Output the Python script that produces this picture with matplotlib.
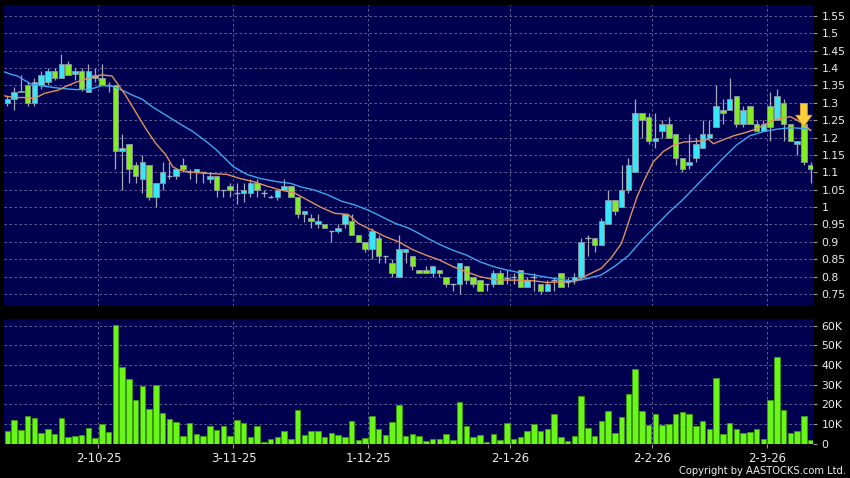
import numpy as np
import matplotlib
matplotlib.use("Agg")
import matplotlib.pyplot as plt

# ─── Daily OHLC ───────────────────────────────────────────────────────────────
opens = [1.30, 1.31, 1.33, 1.35, 1.30, 1.35, 1.36, 1.39, 1.37, 1.41,
         1.383, 1.39, 1.33, 1.372, 1.37, 1.35, 1.35, 1.16, 1.18, 1.12,
         1.08, 1.12, 1.03, 1.07, 1.09, 1.09, 1.12, 1.10, 1.10, 1.10,
         1.08, 1.09, 1.05, 1.06, 1.04, 1.04, 1.04, 1.07, 1.04, 1.03,
         1.03, 1.05, 1.06, 1.03, 0.98, 0.97, 0.95, 0.95, 0.93, 0.93,
         0.95, 0.96, 0.92, 0.90, 0.88, 0.91, 0.86, 0.84, 0.80, 0.87,
         0.86, 0.82, 0.82, 0.81, 0.82, 0.80, 0.78, 0.78, 0.83, 0.80,
         0.79, 0.78, 0.78, 0.81, 0.795, 0.80, 0.82, 0.77, 0.80, 0.78,
         0.76, 0.79, 0.81, 0.785, 0.79, 0.80, 0.91, 0.91, 0.89, 0.95,
         1.02, 1.00, 1.05, 1.10, 1.27, 1.26, 1.19, 1.22, 1.24, 1.21,
         1.14, 1.12, 1.14, 1.17, 1.20, 1.23, 1.28, 1.28, 1.32, 1.24,
         1.29, 1.24, 1.22, 1.29, 1.25, 1.30, 1.24, 1.18, 1.24, 1.12]
highs = [1.32, 1.345, 1.38, 1.36, 1.37, 1.39, 1.40, 1.40, 1.44, 1.42,
         1.40, 1.40, 1.41, 1.40, 1.41, 1.36, 1.35, 1.21, 1.18, 1.13,
         1.15, 1.12, 1.07, 1.13, 1.13, 1.11, 1.14, 1.11, 1.11, 1.10,
         1.10, 1.09, 1.05, 1.07, 1.07, 1.07, 1.08, 1.08, 1.05, 1.035,
         1.05, 1.08, 1.06, 1.03, 0.99, 0.98, 0.98, 0.95, 0.93, 0.95,
         0.98, 0.98, 0.92, 0.90, 0.94, 0.92, 0.86, 0.85, 0.92, 0.88,
         0.86, 0.82, 0.83, 0.83, 0.82, 0.80, 0.78, 0.84, 0.83, 0.80,
         0.79, 0.78, 0.82, 0.82, 0.82, 0.81, 0.82, 0.80, 0.81, 0.78,
         0.79, 0.80, 0.81, 0.80, 0.81, 0.91, 0.92, 0.91, 0.97, 1.05,
         1.02, 1.12, 1.14, 1.31, 1.27, 1.27, 1.27, 1.25, 1.26, 1.21,
         1.14, 1.21, 1.20, 1.25, 1.25, 1.35, 1.31, 1.37, 1.32, 1.29,
         1.29, 1.25, 1.25, 1.33, 1.34, 1.31, 1.24, 1.19, 1.25, 1.13]
lows = [1.29, 1.28, 1.33, 1.29, 1.29, 1.34, 1.35, 1.365, 1.37, 1.38,
        1.365, 1.335, 1.33, 1.36, 1.35, 1.33, 1.11, 1.05, 1.07, 1.07,
        1.04, 1.02, 1.00, 1.05, 1.08, 1.08, 1.10, 1.08, 1.07, 1.07,
        1.07, 1.03, 1.03, 1.03, 1.01, 1.015, 1.03, 1.03, 1.03, 1.025,
        1.02, 1.05, 1.03, 0.97, 0.958, 0.94, 0.94, 0.94, 0.90, 0.925,
        0.94, 0.92, 0.90, 0.87, 0.85, 0.84, 0.84, 0.80, 0.80, 0.84,
        0.82, 0.81, 0.81, 0.80, 0.80, 0.77, 0.76, 0.75, 0.78, 0.77,
        0.76, 0.76, 0.77, 0.78, 0.78, 0.78, 0.77, 0.77, 0.76, 0.75,
        0.76, 0.76, 0.77, 0.77, 0.78, 0.79, 0.86, 0.87, 0.89, 0.95,
        0.977, 1.00, 1.04, 1.10, 1.20, 1.18, 1.17, 1.20, 1.20, 1.12,
        1.10, 1.11, 1.13, 1.17, 1.20, 1.23, 1.24, 1.28, 1.23, 1.23,
        1.24, 1.22, 1.22, 1.19, 1.25, 1.19, 1.19, 1.15, 1.12, 1.07]
closes = [1.31, 1.33, 1.335, 1.30, 1.36, 1.38, 1.39, 1.37, 1.41, 1.38,
          1.39, 1.34, 1.39, 1.38, 1.35, 1.35, 1.16, 1.17, 1.11, 1.09,
          1.13, 1.03, 1.07, 1.10, 1.09, 1.11, 1.11, 1.10, 1.11, 1.10,
          1.09, 1.05, 1.05, 1.05, 1.04, 1.05, 1.07, 1.05, 1.04, 1.03,
          1.05, 1.06, 1.03, 0.98, 0.99, 0.96, 0.96, 0.94, 0.93, 0.94,
          0.98, 0.92, 0.90, 0.88, 0.93, 0.86, 0.86, 0.81, 0.88, 0.88,
          0.83, 0.81, 0.81, 0.83, 0.81, 0.78, 0.78, 0.84, 0.79, 0.78,
          0.76, 0.78, 0.81, 0.78, 0.795, 0.80, 0.77, 0.79, 0.80, 0.76,
          0.78, 0.79, 0.77, 0.785, 0.80, 0.90, 0.91, 0.89, 0.96, 1.02,
          0.99, 1.05, 1.12, 1.27, 1.25, 1.19, 1.20, 1.24, 1.20, 1.14,
          1.11, 1.13, 1.18, 1.21, 1.21, 1.29, 1.27, 1.31, 1.24, 1.28,
          1.24, 1.22, 1.24, 1.23, 1.32, 1.24, 1.19, 1.19, 1.13, 1.11]

# volume in thousands of shares
volume_k = [6.5, 12.2, 6.8, 13.9, 12.9, 5.3, 7.3, 4.6, 12.9, 3.2,
            3.7, 4.1, 7.8, 2.7, 9.9, 5.9, 60.2, 38.9, 33.1, 22.1,
            29.1, 17.7, 29.9, 15.3, 12.4, 10.9, 3.6, 10.4, 4.6, 3.9,
            8.7, 7.1, 9.0, 3.6, 11.9, 10.5, 3.2, 8.8, 1.0, 2.4,
            3.4, 6.3, 2.2, 17.3, 4.2, 6.6, 6.3, 3.1, 5.3, 4.2,
            3.4, 11.7, 1.7, 2.7, 14.1, 7.3, 4.2, 10.7, 19.7, 3.9,
            4.6, 3.9, 1.2, 2.5, 2.4, 4.8, 1.7, 21.2, 8.8, 3.4,
            4.1, 0.7, 4.8, 1.7, 10.4, 2.2, 3.2, 6.3, 9.9, 6.6,
            7.6, 14.8, 3.2, 1.2, 3.7, 24.1, 8.0, 3.9, 11.4, 16.3,
            5.3, 13.6, 25.2, 37.9, 16.7, 9.3, 15.1, 9.3, 9.9, 14.8,
            16.1, 15.0, 8.7, 11.4, 7.5, 33.5, 4.9, 10.2, 7.3, 5.6,
            6.1, 7.6, 2.2, 21.9, 44.2, 17.0, 5.6, 6.6, 13.9, 2.0]

# moving averages as drawn on the chart (bar position, value)
ma10_x = [-0.5, 1, 2.5, 4, 5.5, 7.5, 9, 11, 12.5, 14, 15.5, 16.5,
          17.5, 19, 20.5, 22, 23.5, 24.5, 25.5, 27.5, 29.5, 31.5, 32.5, 34.5,
          36.5, 38.5, 40.5, 42.5, 44.5, 46.5, 48.5, 50.5, 52, 54, 56, 58,
          60, 62, 64, 66, 68, 70, 72, 74, 76, 78, 80, 82,
          84, 86, 88, 89.5, 91, 92.3, 93.3, 94.3, 95.7, 97.2, 98.7, 100.2,
          102.6, 103.9, 104.6, 106, 107.6, 109.5, 111, 112.5, 113.5, 114.5, 116, 117,
          118.2, 119]
ma10 = [1.32, 1.315, 1.315, 1.312, 1.327, 1.336, 1.35, 1.365, 1.373, 1.38, 1.377, 1.35,
        1.322, 1.274, 1.226, 1.183, 1.15, 1.116, 1.106, 1.10, 1.097, 1.095, 1.094, 1.082,
        1.073, 1.06, 1.049, 1.041, 1.02, 0.999, 0.982, 0.979, 0.953, 0.934, 0.915, 0.90,
        0.878, 0.862, 0.848, 0.829, 0.814, 0.80, 0.792, 0.79, 0.79, 0.788, 0.783, 0.785,
        0.786, 0.805, 0.824, 0.855, 0.896, 0.972, 1.03, 1.075, 1.13, 1.16, 1.178, 1.187,
        1.19, 1.195, 1.182, 1.193, 1.205, 1.215, 1.225, 1.24, 1.25, 1.255, 1.26, 1.25,
        1.235, 1.22]
ma20_x = [-0.5, 0.5, 1.5, 2.5, 3.5, 4.5, 6, 8, 10, 12, 13, 14,
          15.5, 17, 18.5, 20, 21.5, 23.5, 25.5, 27.5, 29.5, 31, 33.5, 35.5,
          37.5, 40, 42, 43.5, 45.5, 47.5, 49.5, 51.5, 53.5, 55.5, 57.5, 59.5,
          61, 62, 64, 66, 68, 70, 72, 74, 76, 78, 80, 82,
          84, 86, 88, 90, 92, 94, 96, 98, 100, 102, 104, 106,
          108, 110, 112, 114, 116, 118, 119]
ma20 = [1.389, 1.382, 1.377, 1.365, 1.354, 1.35, 1.346, 1.341, 1.338, 1.338, 1.343, 1.349,
        1.348, 1.336, 1.322, 1.31, 1.288, 1.264, 1.24, 1.217, 1.188, 1.164, 1.116, 1.094,
        1.082, 1.073, 1.068, 1.058, 1.049, 1.035, 1.017, 1.006, 0.991, 0.972, 0.953, 0.939,
        0.924, 0.913, 0.893, 0.876, 0.862, 0.843, 0.829, 0.819, 0.811, 0.805, 0.798, 0.792,
        0.787, 0.795, 0.805, 0.83, 0.86, 0.905, 0.945, 0.985, 1.02, 1.06, 1.10, 1.14,
        1.178, 1.205, 1.217, 1.224, 1.228, 1.226, 1.222]

# first bar of each labelled month
date_bars = [14, 34, 54, 75, 96, 113]
date_labels = ['2-10-25', '3-11-25', '1-12-25', '2-1-26', '2-2-26', '2-3-26']
price_ticks = [0.75, 0.8, 0.85, 0.9, 0.95, 1.0, 1.05, 1.1, 1.15, 1.2,
               1.25, 1.3, 1.35, 1.4, 1.45, 1.5, 1.55]
vol_ticks_k = [0, 10, 20, 30, 40, 50, 60]

# ─── Styling ─────────────────────────────────────────────────────────────────
BG = '#000050'
GRID = '#6e6ea0'
UP = '#38e6f6'
DOWN = '#84ec22'
WICK = '#a4a8b8'
EDGE = '#8a96a4'
TXT = '#eeeeee'

o = np.array(opens)
h = np.array(highs)
l = np.array(lows)
c = np.array(closes)
idx = np.arange(len(o))

W, H = 850, 478
fig = plt.figure(figsize=(W / 100, H / 100), dpi=100, facecolor='black')
ax = fig.add_axes([4 / W, 1 - 306 / H, 809 / W, 301 / H])
axv = fig.add_axes([4 / W, 1 - 443.5 / H, 809 / W, 124.5 / H], sharex=ax)

xticks = np.array(date_bars) - 0.5
for a in (ax, axv):
    a.set_facecolor(BG)
    for s in a.spines.values():
        s.set_visible(False)
    a.set_axisbelow(True)
    a.grid(True, color=GRID, linestyle=(0, (3, 3)), linewidth=0.6)
    a.yaxis.tick_right()
    a.tick_params(axis='y', colors='#9a9a9a', labelcolor=TXT, labelsize=7.8,
                  length=3, width=0.8, pad=3)
    a.set_xticks(xticks)

# ─── Price panel ─────────────────────────────────────────────────────────────
ax.vlines(idx, l, h, color=WICK, linewidth=0.9, zorder=2)
up = c > o
dn = c < o
fl = c == o
ax.bar(idx[up], (c - o)[up], bottom=o[up], width=0.8, color=UP,
       edgecolor=EDGE, linewidth=0.6, zorder=3)
ax.bar(idx[dn], (o - c)[dn], bottom=c[dn], width=0.8, color=DOWN,
       edgecolor=EDGE, linewidth=0.6, zorder=3)
ax.hlines(c[fl], idx[fl] - 0.4, idx[fl] + 0.4, color=WICK, linewidth=1.0, zorder=3)

ax.plot(ma20_x, ma20, color='#3fa6f0', linewidth=1.0, zorder=4)
ax.plot(ma10_x, ma10, color='#e0915e', linewidth=1.0, zorder=4)

# signal arrow above the second-last bar
sig = len(o) - 2
ax.annotate('', xy=(sig, h[sig] - 0.018), xytext=(sig, h[sig] + 0.048),
            arrowprops=dict(arrowstyle='simple,head_length=0.8,head_width=1.15,tail_width=0.5',
                            fc='#fcd23a', ec='#eaa21e', lw=0.6,
                            shrinkA=0, shrinkB=0, mutation_scale=10),
            zorder=6)

ax.set_ylim(0.7156, 1.581)
ax.set_yticks(price_ticks)
ax.set_yticklabels([f"{v:g}" for v in price_ticks])
ax.tick_params(axis='x', bottom=False, labelbottom=False)
ax.set_xlim(-0.49, 119.36)

# ─── Volume panel ────────────────────────────────────────────────────────────
axv.bar(idx, volume_k, width=0.82, color='#6af617', edgecolor='#3c9a10',
        linewidth=0.6, zorder=3)
axv.set_ylim(0, 63.4)
axv.set_yticks(vol_ticks_k)
axv.set_yticklabels([f"{v}K" if v else "0" for v in vol_ticks_k])
axv.set_xticklabels(date_labels)
axv.tick_params(axis='x', colors='#9a9a9a', labelcolor=TXT, labelsize=8.4,
                length=3, width=0.8, pad=3)

fig.text(846 / W, 1 - 476 / H, 'Copyright by AASTOCKS.com Ltd.', color=TXT,
         fontsize=7.2, ha='right', va='bottom')

fig.savefig('out.png', dpi=100, facecolor='black')
